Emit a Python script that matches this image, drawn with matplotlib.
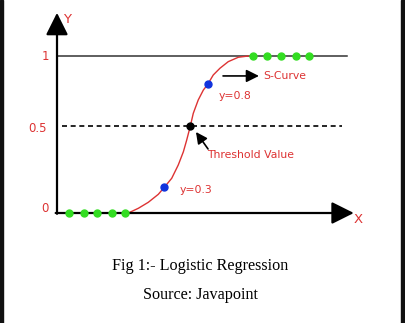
import matplotlib.pyplot as plt
from matplotlib.patches import Rectangle

# S-curve (x in arbitrary units, y as drawn)
curve_x = [5.32, 6.07, 6.81, 7.56, 8.01, 8.56, 9.05, 9.43, 9.68, 9.95,
           10.17, 10.54, 10.92, 11.25, 11.66, 12.16, 12.78, 13.53, 14.28]
curve_y = [0.0, 0.03, 0.068, 0.119, 0.164, 0.221, 0.306, 0.39, 0.465, 0.554,
           0.635, 0.72, 0.783, 0.82, 0.879, 0.922, 0.964, 0.992, 1.0]

# green class points
green_low_x = [0.9, 2.0, 3.0, 4.1, 5.1]
green_high_x = [14.6, 15.7, 16.7, 17.8, 18.8]

# blue probability points and threshold point
blue_x = [8.01, 11.25]
blue_y = [0.164, 0.82]
blue_labels = ['y=0.3', 'y=0.8']
thresh_x = 9.95
thresh_y = 0.554

tick_labels = ['0', '0.5', '1']
tick_pos = [0.03, 0.54, 1.0]

red = '#dd3333'

fig = plt.figure(figsize=(4.05, 3.23), dpi=100)
ax = fig.add_axes([0, 0, 1, 1])
ax.set_xlim(-4.254, 25.97)
ax.set_ylim(-0.7006, 1.3567)
ax.axis('off')

# axes with arrows
ax.annotate('', xy=(0, 1.275), xytext=(0, -0.005),
            arrowprops=dict(arrowstyle='-|>', mutation_scale=34, lw=1.6, color='black',
                            shrinkA=0, shrinkB=0))
ax.annotate('', xy=(22.15, 0), xytext=(-0.1, 0),
            arrowprops=dict(arrowstyle='-|>', mutation_scale=34, lw=1.6, color='black',
                            shrinkA=0, shrinkB=0))
ax.text(0.75, 1.235, 'Y', color=red, fontsize=9.5, ha='center', va='center')
ax.text(22.45, -0.04, 'X', color=red, fontsize=9.5, ha='center', va='center')

# y = 1 line and threshold line
ax.plot([0, 21.64], [1, 1], color='#333333', lw=1.1, zorder=1)
ax.plot([0.37, 21.3], [thresh_y, thresh_y], color='black', lw=1.2,
        linestyle=(0, (3, 2.2)), zorder=1)

for lab, yp in zip(tick_labels, tick_pos):
    ax.text(-0.9 if lab != '0.5' else -1.42, yp, lab, color=red, fontsize=8.5,
            ha='center', va='center')

# the curve
ax.plot(curve_x, curve_y, color=red, lw=1.0, zorder=2)

# points
ax.plot(green_low_x, [0] * len(green_low_x), 'o', color='#33dd22', ms=5, zorder=3)
ax.plot(green_high_x, [1] * len(green_high_x), 'o', color='#33dd22', ms=5, zorder=3)
ax.plot(blue_x, blue_y, 'o', color='#1133dd', ms=5, zorder=3)
ax.plot([thresh_x], [thresh_y], 'o', color='black', ms=5, zorder=3)

ax.text(9.18, 0.146, blue_labels[0], color=red, fontsize=7.8, ha='left', va='center')
ax.text(12.09, 0.745, blue_labels[1], color=red, fontsize=7.8, ha='left', va='center')

# S-Curve arrow
ax.annotate('', xy=(15.07, 0.873), xytext=(12.39, 0.873),
            arrowprops=dict(arrowstyle='-|>', mutation_scale=19, lw=1.2, color='black',
                            shrinkA=0, shrinkB=0))
ax.text(15.37, 0.873, 'S-Curve', color=red, fontsize=7.8, ha='left', va='center')

# threshold arrow
ax.annotate('', xy=(10.37, 0.516), xytext=(11.27, 0.408),
            arrowprops=dict(arrowstyle='-|>', mutation_scale=17, lw=1.2, color='black',
                            shrinkA=0, shrinkB=0))
ax.text(11.2, 0.369, 'Threshold Value', color=red, fontsize=7.8, ha='left', va='center')

# caption
fig.text(0.494, 1 - 266 / 323, 'Fig 1:- Logistic Regression', family='Liberation Serif',
         fontsize=11.6, ha='center', va='center')
fig.text(0.494, 1 - 295 / 323, 'Source: Javapoint', family='Liberation Serif',
         fontsize=11.6, ha='center', va='center')

# dark side borders
fig.patches.append(Rectangle((0, 0), 3 / 405, 1, transform=fig.transFigure,
                             color='#111111', zorder=10))
fig.patches.append(Rectangle((401 / 405, 0), 4 / 405, 1, transform=fig.transFigure,
                             color='#111111', zorder=10))

fig.savefig('out.png', dpi=100)
